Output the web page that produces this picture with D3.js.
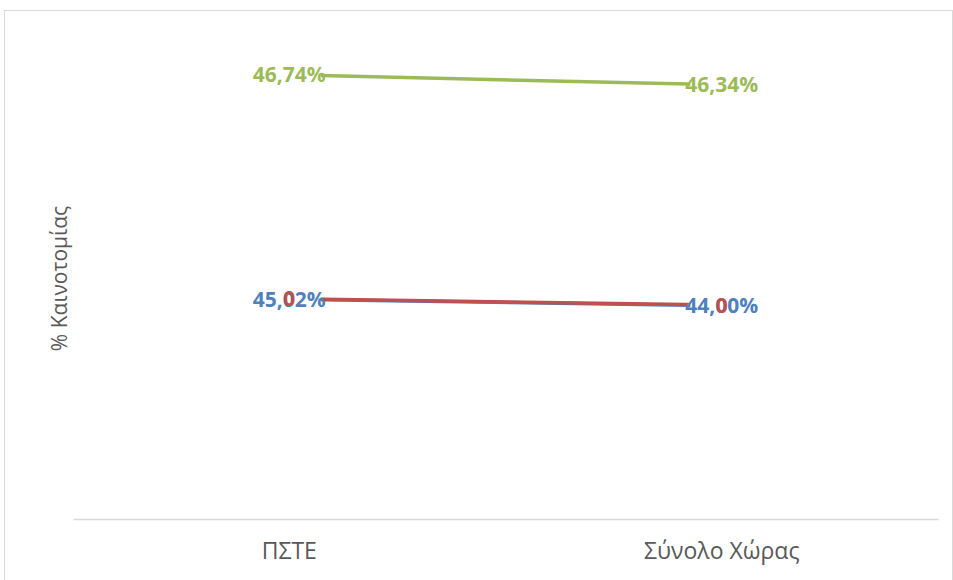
<!DOCTYPE html>
<html>
<head>
<meta charset="utf-8">
<script src="https://cdn.jsdelivr.net/npm/d3@7"></script>
<style>
  body { margin: 0; background: #fff; }
  svg { display: block; }
</style>
</head>
<body>
<div id="chart"></div>
<script>
// data
const categories = ["ΠΣΤΕ", "Σύνολο Χώρας"];
const greenValues = [46.74, 46.34];
const blueValues = [45.02, 44.00];
const redValues = [45.10, 44.10];
const greenLabels = ["46,74%", "46,34%"];
const blueLabels = ["45,02%", "44,00%"];
const redLabels = ["0", "0"];

const width = 953, height = 580;
const margin = { top: 32, right: 15, bottom: 61, left: 73 };

const svg = d3.select("#chart")
  .append("svg")
  .attr("width", width)
  .attr("height", height);

// chart frame
svg.append("rect")
  .attr("x", 4.5).attr("y", 10.5)
  .attr("width", width - 5).attr("height", height)
  .attr("fill", "none")
  .attr("stroke", "#d9d9d9");

const x = d3.scaleBand()
  .domain(categories)
  .range([margin.left, width - margin.right]);

// primary axis (blue, red) and secondary axis (green), both hidden
const yPrimary = d3.scaleLinear()
  .domain([10.5, 87])
  .range([height - margin.bottom, margin.top]);
const ySecondary = d3.scaleLinear()
  .domain([29, 48.45])
  .range([height - margin.bottom, margin.top]);

const xAxis = d3.axisBottom(x).tickSize(0).tickPadding(24);
const gx = svg.append("g")
  .attr("transform", `translate(0,${height - margin.bottom})`)
  .call(xAxis);
gx.select(".domain").attr("stroke", "#d9d9d9").attr("stroke-width", 1.5);
gx.selectAll("text")
  .attr("font-family", "Open Sans, sans-serif")
  .attr("font-size", 23)
  .attr("fill", "#595959");

svg.append("text")
  .attr("transform", `translate(67,${(margin.top + height - margin.bottom) / 2 + 3}) rotate(-90)`)
  .attr("text-anchor", "middle")
  .attr("font-family", "Open Sans, sans-serif")
  .attr("font-size", 21)
  .attr("fill", "#595959")
  .text("% Καινοτομίας");

const cx = c => x(c) + x.bandwidth() / 2;

const series = [
  { values: blueValues, labels: blueLabels, y: yPrimary, color: "#4f81bd", box: true },
  { values: redValues, labels: redLabels, y: yPrimary, color: "#c0504d", box: false },
  { values: greenValues, labels: greenLabels, y: ySecondary, color: "#9bbb59", box: true }
];

series.forEach(s => {
  const line = d3.line()
    .x((d, i) => cx(categories[i]))
    .y(d => s.y(d));
  svg.append("path")
    .datum(s.values)
    .attr("d", line)
    .attr("fill", "none")
    .attr("stroke", s.color)
    .attr("stroke-width", 3.5)
    .attr("stroke-linecap", "round");
});

// data labels (drawn after all lines)
series.forEach(s => {
  const g = svg.append("g");
  s.values.forEach((v, i) => {
    const lx = cx(categories[i]), ly = s.y(v);
    const t = g.append("text")
      .attr("x", lx).attr("y", ly)
      .attr("dy", "0.36em")
      .attr("text-anchor", "middle")
      .attr("font-family", "Open Sans, sans-serif")
      .attr("font-weight", "bold")
      .attr("font-size", 21)
      .attr("fill", s.color)
      .text(s.labels[i]);
    if (s.box) {
      const w = t.node().getComputedTextLength() - 10;
      g.insert("rect", "text")
        .attr("x", lx - w / 2).attr("y", ly - 12)
        .attr("width", w).attr("height", 24)
        .attr("fill", "#fff");
    }
  });
});
</script>
</body>
</html>
